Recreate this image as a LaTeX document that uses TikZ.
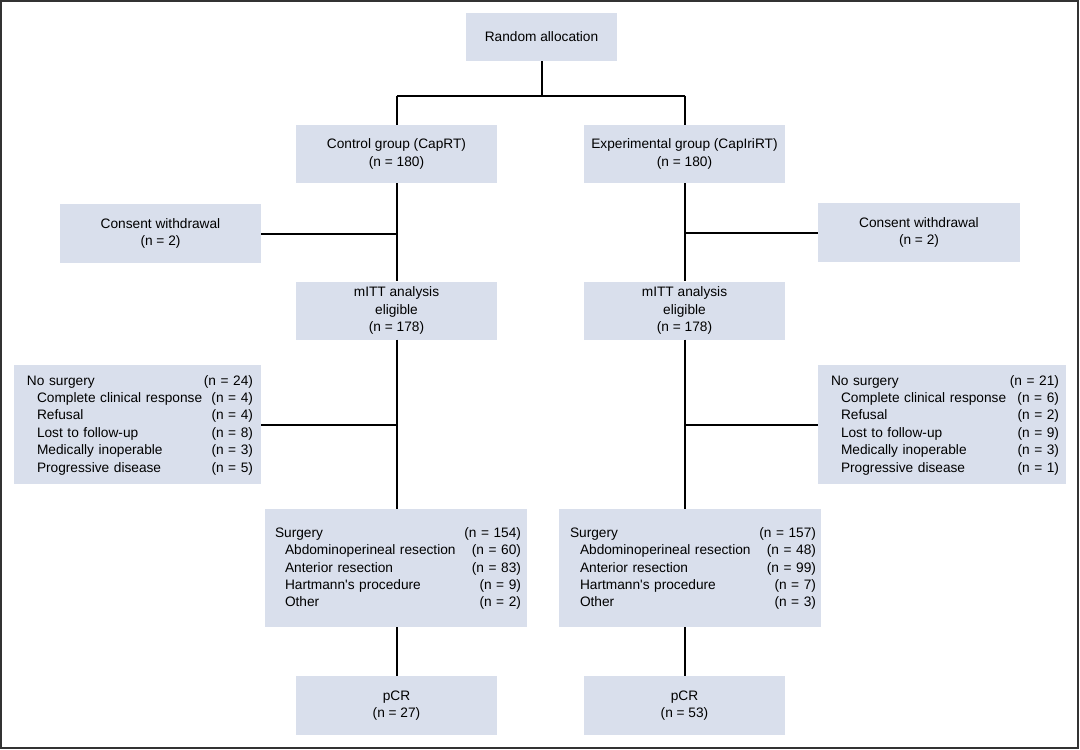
\documentclass[tikz,border=0pt]{standalone}
\usepackage{fontspec}
\setmainfont{Liberation Sans}[Ligatures=TeXOff]
\begin{document}
\begin{tikzpicture}[x=1pt,y=-1pt,
  box/.style={fill=boxfill, draw=none, inner sep=0pt, align=center,
    font=\fontsize{13.7}{17.5}\selectfont},
  listbox/.style={fill=boxfill, draw=none, inner sep=0pt},
  listtext/.style={inner sep=0pt, align=left,
    font=\fontsize{13.7}{17.4}\selectfont},
  conn/.style={line width=2pt, draw=black}]
\definecolor{boxfill}{RGB}{217,223,236}
\useasboundingbox (0,0) rectangle (1080,750);
\draw[line width=2pt, draw=black!80] (1,1) rectangle (1078,748);
\newcommand{\ind}{\hspace*{10pt}}
% boxes
\node[box, minimum width=151pt, minimum height=48pt] (rand) at (541.5,37) {Random allocation};
\node[box, minimum width=201pt, minimum height=58pt] (ctrl) at (396.5,154) {Control group (CapRT)\\(n = 180)};
\node[box, minimum width=201pt, minimum height=58pt] (expt) at (684.5,154) {Experimental group (CapIriRT)\\(n = 180)};
\node[box, minimum width=201pt, minimum height=59pt] (cwL) at (160.5,233.5) {Consent withdrawal\\(n = 2)};
\node[box, minimum width=202pt, minimum height=59pt] (cwR) at (919,232.5) {Consent withdrawal\\(n = 2)};
\node[box, minimum width=201pt, minimum height=58pt] (mittL) at (396.5,310.5) {mITT analysis\\eligible\\(n = 178)};
\node[box, minimum width=201pt, minimum height=58pt] (mittR) at (684.5,310.5) {mITT analysis\\eligible\\(n = 178)};
\node[listbox, minimum width=247pt, minimum height=119pt] (nsL) at (137.5,424.5) {};
\node[listbox, minimum width=248pt, minimum height=119pt] (nsR) at (942,424.5) {};
\node[listbox, minimum width=262pt, minimum height=118pt] (surgL) at (396,568) {};
\node[listbox, minimum width=262pt, minimum height=118pt] (surgR) at (690,568) {};
\node[box, minimum width=201pt, minimum height=59pt] (pcrL) at (396.5,705.5) {pCR\\(n = 27)};
\node[box, minimum width=201pt, minimum height=59pt] (pcrR) at (684.5,705.5) {pCR\\(n = 53)};
% list texts
\node[listtext, text width=226pt] (nsLt) at (140,425) {No surgery\hfill(n = 24)\\
\ind Complete clinical response\hfill(n = 4)\\
\ind Refusal\hfill(n = 4)\\
\ind Lost to follow-up\hfill(n = 8)\\
\ind Medically inoperable\hfill(n = 3)\\
\ind Progressive disease\hfill(n = 5)};
\node[listtext, text width=228pt] (nsRt) at (945,425) {No surgery\hfill(n = 21)\\
\ind Complete clinical response\hfill(n = 6)\\
\ind Refusal\hfill(n = 2)\\
\ind Lost to follow-up\hfill(n = 9)\\
\ind Medically inoperable\hfill(n = 3)\\
\ind Progressive disease\hfill(n = 1)};
\node[listtext, text width=246pt] (surgLt) at (398,568.5) {Surgery\hfill(n = 154)\\
\ind Abdominoperineal resection\hfill(n = 60)\\
\ind Anterior resection\hfill(n = 83)\\
\ind Hartmann's procedure\hfill(n = 9)\\
\ind Other\hfill(n = 2)};
\node[listtext, text width=246pt] (surgRt) at (693,568.5) {Surgery\hfill(n = 157)\\
\ind Abdominoperineal resection\hfill(n = 48)\\
\ind Anterior resection\hfill(n = 99)\\
\ind Hartmann's procedure\hfill(n = 7)\\
\ind Other\hfill(n = 3)};
% connectors
\coordinate (split) at (541.5,95.5);
\draw[conn] (rand.south) -- (split);
\draw[conn] (split -| ctrl.north) -- (split -| expt.north);
\draw[conn] (split -| ctrl.north) -- (ctrl.north);
\draw[conn] (split -| expt.north) -- (expt.north);
\draw[conn] (ctrl.south) -- (mittL.north);
\draw[conn] (expt.south) -- (mittR.north);
\draw[conn] (cwL.east) -- (cwL.east -| ctrl.south);
\draw[conn] (cwR.west) -- (cwR.west -| expt.south);
\draw[conn] (mittL.south) -- (surgL.north -| mittL.south);
\draw[conn] (mittR.south) -- (surgR.north -| mittR.south);
\draw[conn] (nsL.east) -- (nsL.east -| mittL.south);
\draw[conn] (nsR.west) -- (nsR.west -| mittR.south);
\draw[conn] (surgL.south -| pcrL.north) -- (pcrL.north);
\draw[conn] (surgR.south -| pcrR.north) -- (pcrR.north);
\end{tikzpicture}
\end{document}
